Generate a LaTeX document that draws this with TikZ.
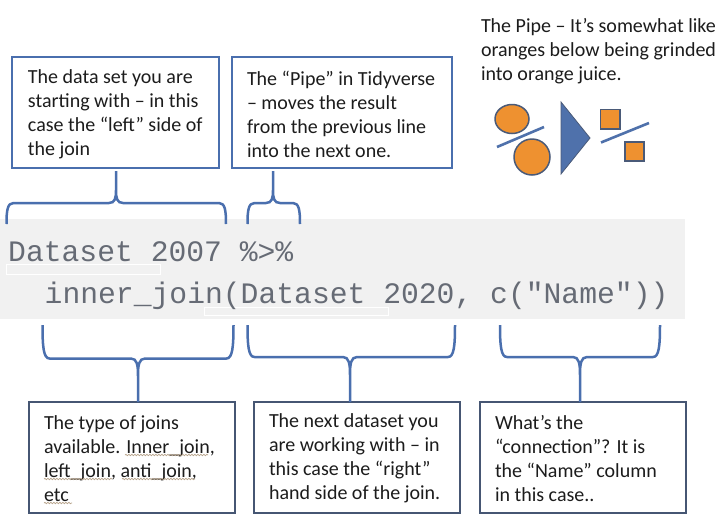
\documentclass[tikz,border=0pt]{standalone}
\usepackage{fontspec}
\setmainfont{Carlito}
\newfontfamily\codefont{Liberation Mono}
\usetikzlibrary{calc,decorations.pathmorphing}
\definecolor{bandgrey}{HTML}{F1F1F1}
\definecolor{topblue}{HTML}{4A6FAE}
\definecolor{slateblue}{HTML}{465673}
\definecolor{shapeblue}{HTML}{4F71AB}
\definecolor{orangefill}{HTML}{EE9130}
\definecolor{shapeedge}{HTML}{4A5A78}
\definecolor{inktext}{HTML}{1C1C1C}
\definecolor{codetext}{HTML}{666B75}
\definecolor{squiggle}{HTML}{B8A48C}
\tikzset{
  basetext/.style={font=\fontsize{20}{24}\selectfont,text=inktext,align=left,inner sep=0pt,outer sep=0pt},
  topbox/.style={draw=topblue,line width=1.7pt,basetext,anchor=north west,minimum height=111pt},
  botbox/.style={draw=slateblue,line width=1.7pt,basetext,anchor=north west,minimum height=111pt},
  codeline/.style={font=\codefont\fontsize{29.7}{30}\selectfont,text=codetext,anchor=base west,inner sep=0pt},
  bracestyle/.style={draw=topblue,line width=2.5pt},
  fruit/.style={draw=shapeedge,fill=orangefill,line width=1.5pt},
  sieve/.style={draw=shapeblue,line width=2.6pt},
  ghost/.style={draw=white,line width=1pt},
  wavy/.style={draw=squiggle,line width=.7pt,decorate,decoration={snake,amplitude=.7pt,segment length=3pt}}
}
\newcommand{\BoxText}[4]{\hspace*{#1}\parbox[c]{#2}{\vspace*{#4}\raggedright #3}}
\newcommand{\BraceShape}[4]{%
  \draw[bracestyle] (#1) .. controls ($(#1 |- #4)!.35!(#1)$) and ($(#1 |- #4)+(1,0)$) .. ($(#1 |- #4)+(7,0)$)
    -- ($(#3 |- #4)+(-7,0)$) .. controls ($(#3 |- #4)+(-1,0)$) and ($(#3 |- #4)!.15!(#3)$) .. ($(#3 |- #4)!.4!(#3)$)
    -- (#3) -- ($(#3 |- #4)!.4!(#3)$) .. controls ($(#3 |- #4)!.15!(#3)$) and ($(#3 |- #4)+(1,0)$) .. ($(#3 |- #4)+(7,0)$)
    -- ($(#2 |- #4)+(-7,0)$) .. controls ($(#2 |- #4)+(-1,0)$) and ($(#2 |- #4)!.35!(#2)$) .. (#2);}
\begin{document}
\begin{tikzpicture}[x=1pt,y=-1pt]
\useasboundingbox (0,0) rectangle (723,528);
\fill[white] (0,0) rectangle (723,528);
\fill[bandgrey] (0,219) rectangle (685,319);
\draw[ghost] (6,264.5) rectangle (160,274.5);
\draw[ghost] (204,307.5) rectangle (388,315);

\node[codeline] (code1) at (8,261) {Dataset 2007 \%>\%};
\node[codeline] (code2) at (44.5,303) {inner\_join(Dataset 2020, c("Name"))};

\node[topbox,minimum width=207pt] (boxA) at (12,57)
  {\BoxText{16pt}{191pt}{The data set you are\\starting with – in this\\case the “left” side of\\the join}{4pt}};
\node[topbox,minimum width=220pt] (boxB) at (232,57)
  {\BoxText{15pt}{205pt}{The “Pipe” in Tidyverse\\– moves the result\\from the previous line\\into the next one.}{4pt}};
\node[botbox,minimum width=206pt] (boxC) at (29,402)
  {\BoxText{15pt}{191pt}{The type of joins\\available. Inner\_join,\\left\_join, anti\_join,\\etc}{2pt}};
\node[botbox,minimum width=206pt] (boxD) at (254,402)
  {\BoxText{15pt}{191pt}{The next dataset you\\are working with – in\\this case the “right”\\hand side of the join.}{2pt}};
\node[botbox,minimum width=206pt] (boxE) at (480,402)
  {\BoxText{15pt}{191pt}{What’s the\\“connection”? It is\\the “Name” column\\in this case..}{2pt}};
\node[basetext,anchor=north west] (pipenote) at (481,18.5)
  {The Pipe – It’s somewhat like\\oranges below being grinded\\into orange juice.};

% squiggles under flagged words
\draw[wavy] (125,455) -- (208,455);
\draw[wavy] (44,479) -- (112,479);
\draw[wavy] (122,479) -- (195,479);
\draw[wavy] (44,503) -- (72,503);

% braces
\coordinate (tl1) at (6.5,224);  \coordinate (tr1) at (226,224);
\coordinate (tt1) at (116,171);  \coordinate (tb1) at (116,203);
\coordinate (tl2) at (247.5,224);\coordinate (tr2) at (300,224);
\coordinate (tt2) at (273,171);  \coordinate (tb2) at (273,203);
\coordinate (bl1) at (42.5,325); \coordinate (br1) at (233.5,325);
\coordinate (bt1) at (138,402);  \coordinate (bb1) at (138,358.5);
\coordinate (bl2) at (247.5,325);\coordinate (br2) at (455,325);
\coordinate (bt2) at (350,402);  \coordinate (bb2) at (350,357);
\coordinate (bl3) at (500,325);  \coordinate (br3) at (660,325);
\coordinate (bt3) at (580,402);  \coordinate (bb3) at (580,357);
\BraceShape{tl1}{tr1}{tt1}{tb1}
\BraceShape{tl2}{tr2}{tt2}{tb2}
\BraceShape{bl1}{br1}{bt1}{bb1}
\BraceShape{bl2}{br2}{bt2}{bb2}
\BraceShape{bl3}{br3}{bt3}{bb3}

% pipe illustration
\draw[fruit] (512,119) ellipse [x radius=17,y radius=14.5];
\draw[fruit] (532,157) circle [radius=18];
\draw[sieve] (497,147) -- (544,127);
\fill[shapeblue,draw=shapeedge,line width=.8pt] (561,102) -- (590,138) -- (561,174) -- cycle;
\draw[fruit] (600.5,109.5) rectangle (620,129);
\draw[fruit] (625,142) rectangle (644,161);
\draw[sieve] (601,142.5) -- (649,123);
\end{tikzpicture}
\end{document}
